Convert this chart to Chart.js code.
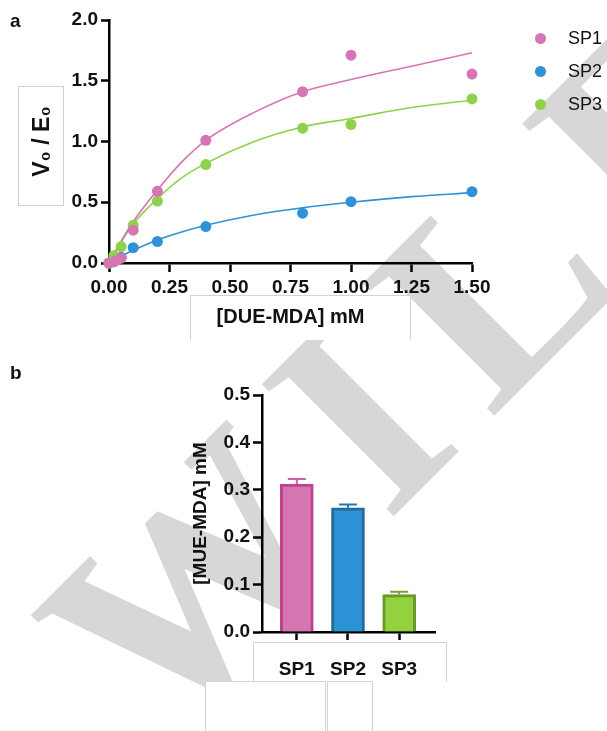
<!DOCTYPE html>
<html>
<head>
<meta charset="utf-8">
<script src="https://cdn.jsdelivr.net/npm/chart.js@4.4.1/dist/chart.umd.min.js"></script>
<style>
  body { margin: 0; background: #fff; font-family: "Liberation Sans", Arial, sans-serif; }
  #wrap { position: relative; width: 607px; height: 731px; overflow: hidden; background: #fff; }
  .box { position: absolute; border: 1px solid #d2d2d2; background: #fff; box-sizing: border-box; }
  .panel { position: absolute; font-weight: bold; font-size: 19px; color: #111; }
  canvas { position: absolute; left: 0; }
  .leg { position: absolute; left: 535px; font-size: 18px; color: #111; }
  .leg i { position: absolute; left: 0; top: 6px; width: 11px; height: 11px; border-radius: 50%; }
  .leg span { position: absolute; left: 33px; top: 0; line-height: 22px; }
</style>
</head>
<body>
<div id="wrap">
  <canvas id="wm" width="607" height="731" style="top:0"></canvas>

  <!-- white label boxes that sit behind the axis titles -->
  <div class="box" style="left:18px;top:86px;width:46px;height:120px"></div>
  <div class="box" style="left:190px;top:295px;width:221px;height:45px;border-bottom:none"></div>
  <div class="box" style="left:253px;top:642px;width:194px;height:40px;border-bottom:none"></div>
  <div class="box" style="left:205px;top:681px;width:121px;height:55px"></div>
  <div class="box" style="left:327px;top:681px;width:46px;height:55px"></div>

  <div class="panel" style="left:10px;top:10px">a</div>
  <div class="panel" style="left:10px;top:362px">b</div>

  <canvas id="kinetics" width="607" height="360" style="top:0"></canvas>
  <canvas id="product" width="607" height="371" style="top:360px"></canvas>

  <div class="leg" style="top:27px"><i style="background:#d675b3"></i><span>SP1</span></div>
  <div class="leg" style="top:60px"><i style="background:#2f92d6"></i><span>SP2</span></div>
  <div class="leg" style="top:93px"><i style="background:#8fd14b"></i><span>SP3</span></div>
</div>

<script>
// panel a: measured rates
const sp1X = [0, 0.02, 0.035, 0.05, 0.1, 0.2, 0.4, 0.8, 1.0, 1.5];
const sp1Y = [0, 0.01, 0.025, 0.04, 0.27, 0.59, 1.01, 1.41, 1.71, 1.555];
const sp2X = [0, 0.02, 0.05, 0.1, 0.2, 0.4, 0.8, 1.0, 1.5];
const sp2Y = [0, 0.02, 0.047, 0.126, 0.177, 0.30, 0.41, 0.505, 0.587];
const sp3X = [0, 0.02, 0.05, 0.1, 0.2, 0.4, 0.8, 1.0, 1.5];
const sp3Y = [0, 0.06, 0.135, 0.31, 0.51, 0.81, 1.11, 1.14, 1.35];

// panel a: fitted curves
const fitX = [0, 0.05, 0.1, 0.2, 0.3, 0.4, 0.6, 0.8, 1.0, 1.25, 1.5];
const fitSP1 = [0, 0.18, 0.34, 0.60, 0.83, 1.01, 1.24, 1.41, 1.51, 1.62, 1.73];
const fitSP2 = [0, 0.056, 0.105, 0.19, 0.255, 0.31, 0.395, 0.455, 0.50, 0.546, 0.579];
const fitSP3 = [0, 0.17, 0.32, 0.53, 0.70, 0.82, 1.00, 1.12, 1.19, 1.28, 1.34];

const xTicksA = [0, 0.25, 0.5, 0.75, 1.0, 1.25, 1.5];
const yTicksA = [0, 0.5, 1.0, 1.5, 2.0];

// panel b: product formed
const barNames = ['SP1', 'SP2', 'SP3'];
const barValues = [0.312, 0.262, 0.079];
const barErrors = [0.011, 0.007, 0.006];
const yTicksB = [0, 0.1, 0.2, 0.3, 0.4, 0.5];

const PINK = '#d675b3', BLUE = '#2f92d6', GREEN = '#8fd14b';
const FONT = '"Liberation Sans", Arial, sans-serif';

// publisher watermark behind both panels
(function drawWatermark() {
    const ctx = document.getElementById('wm').getContext('2d');
    ctx.save();
    ctx.translate(160, 750);
    ctx.rotate(-Math.PI / 4);
    ctx.fillStyle = '#d7d7d7';
    ctx.font = 'bold 285px "Liberation Serif", "Times New Roman", serif';
    ctx.letterSpacing = '36px';
    ctx.fillText('WILEY', 0, 0);
    ctx.restore();
})();

const toPts = (xs, ys) => xs.map((x, i) => ({ x: x, y: ys[i] }));

function pointSet(label, xs, ys, color, order) {
    return {
        label: label, data: toPts(xs, ys), order: order,
        backgroundColor: color, borderColor: color,
        pointRadius: 5.5, pointBorderWidth: 0, showLine: false, clip: false
    };
}

function fitSet(ys, color, order) {
    return {
        type: 'line', data: toPts(fitX, ys), order: order,
        borderColor: color, borderWidth: 1.6, pointRadius: 0,
        cubicInterpolationMode: 'monotone', fill: false, clip: false
    };
}

function axisStyle(tickLen) {
    return {
        grid: { drawOnChartArea: false, drawTicks: true, offset: false, tickLength: tickLen, tickColor: '#000', tickWidth: 2.5 },
        border: { display: true, color: '#000', width: 2.5 }
    };
}

const tickFont = { family: FONT, size: 19, weight: 'bold' };

new Chart(document.getElementById('kinetics'), {
    type: 'scatter',
    data: {
        datasets: [
            pointSet('SP1', sp1X, sp1Y, PINK, 1),
            pointSet('SP3', sp3X, sp3Y, GREEN, 2),
            pointSet('SP2', sp2X, sp2Y, BLUE, 3),
            fitSet(fitSP1, PINK, 4),
            fitSet(fitSP3, GREEN, 5),
            fitSet(fitSP2, BLUE, 6)
        ]
    },
    options: {
        responsive: false,
        animation: false,
        layout: { padding: { top: 20, left: 19, right: 135, bottom: 17 } },
        plugins: { legend: { display: false }, tooltip: { enabled: false } },
        scales: {
            x: Object.assign(axisStyle(9), {
                type: 'linear', min: 0, max: 1.5,
                afterBuildTicks: s => { s.ticks = xTicksA.map(v => ({ value: v })); },
                afterFit: s => { s.height = 80; },
                ticks: { color: '#111', padding: 4, maxRotation: 0, font: tickFont,
                         callback: v => Number(v).toFixed(2) },
                title: { display: true, text: '[DUE-MDA] mM', color: '#111',
                         font: { family: FONT, size: 20, weight: 'bold' },
                         padding: { top: 0, bottom: 14 } }
            }),
            y: Object.assign(axisStyle(8), {
                min: 0, max: 2,
                afterBuildTicks: s => { s.ticks = yTicksA.map(v => ({ value: v })); },
                afterFit: s => { s.width = 90; },
                ticks: { color: '#111', padding: 3, font: tickFont,
                         callback: v => Number(v).toFixed(1) },
                title: { display: true, text: 'V\u2080 / E\u2080', color: '#111',
                         font: { family: FONT, size: 23, weight: 'bold' },
                         padding: { top: 10, bottom: 0 } }
            })
        }
    }
});

// upper error whiskers, placed with the chart's own scales
const errorBars = {
    id: 'errorBars',
    afterDatasetsDraw(chart) {
        const ctx = chart.ctx;
        const xs = chart.scales.x, ys = chart.scales.y;
        const colors = ['#cc62a4', '#2a75aa', '#76a33c'];
        ctx.save();
        ctx.lineWidth = 2;
        barValues.forEach((v, i) => {
            const px = xs.getPixelForValue(i + 1);
            const base = ys.getPixelForValue(v);
            const top = ys.getPixelForValue(v + barErrors[i]);
            ctx.strokeStyle = colors[i];
            ctx.beginPath();
            ctx.moveTo(px, base); ctx.lineTo(px, top);
            ctx.moveTo(px - 9, top); ctx.lineTo(px + 9, top);
            ctx.stroke();
        });
        ctx.restore();
    }
};

new Chart(document.getElementById('product'), {
    type: 'bar',
    data: {
        datasets: [{
            data: barValues.map((v, i) => ({ x: i + 1, y: v })),
            backgroundColor: ['#d476b0', '#2d91d5', '#93d13f'],
            borderColor: ['#c1408f', '#23699a', '#6a982b'],
            borderWidth: 3,
            barThickness: 33
        }]
    },
    options: {
        responsive: false,
        animation: false,
        layout: { padding: { top: 35, left: 162, right: 172, bottom: 49 } },
        plugins: { legend: { display: false }, tooltip: { enabled: false } },
        scales: {
            x: Object.assign(axisStyle(8), {
                type: 'linear', min: 0.32, max: 3.7, offset: false,
                afterBuildTicks: s => { s.ticks = barNames.map((n, i) => ({ value: i + 1 })); },
                afterFit: s => { s.height = 50; },
                ticks: { color: '#111', padding: 18, maxRotation: 0, font: tickFont,
                         callback: v => barNames[Math.round(v) - 1] }
            }),
            y: Object.assign(axisStyle(9), {
                min: 0, max: 0.5,
                afterBuildTicks: s => { s.ticks = yTicksB.map(v => ({ value: v })); },
                afterFit: s => { s.width = 100; },
                ticks: { color: '#111', padding: 3, font: tickFont,
                         callback: v => Number(v).toFixed(1) },
                title: { display: true, text: '[MUE-MDA] mM', color: '#111',
                         font: { family: FONT, size: 19, weight: 'bold' },
                         padding: { top: 27, bottom: 0 } }
            })
        }
    },
    plugins: [errorBars]
});
</script>
</body>
</html>
